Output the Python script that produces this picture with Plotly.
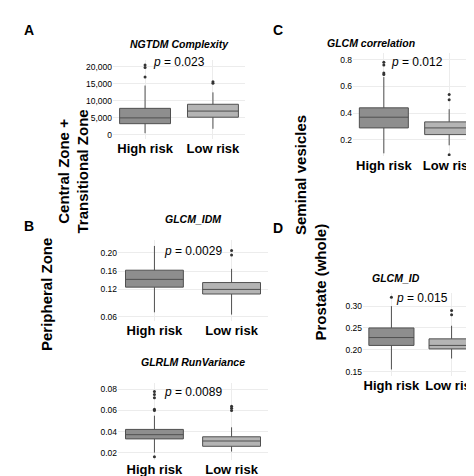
import plotly.graph_objects as go

W, H = 474, 476
cats = ["High risk", "Low risk"]

# per panel: [lower, q1, median, q3, upper] for High, Low; outliers
A_stats = [[500, 3300, 5000, 7800, 14500], [1800, 5200, 7000, 9000, 12500]]
A_out = [[17000, 19800, 20500], [15200, 15600]]
C_stats = [[0.10, 0.29, 0.37, 0.44, 0.67], [0.16, 0.24, 0.29, 0.335, 0.43]]
C_out = [[0.69, 0.70, 0.76, 0.78], [0.09, 0.50, 0.54]]
B1_stats = [[0.07, 0.125, 0.142, 0.162, 0.215], [0.065, 0.11, 0.12, 0.135, 0.165]]
B1_out = [[], [0.195, 0.205]]
B2_stats = [[0.02, 0.033, 0.037, 0.042, 0.055], [0.021, 0.026, 0.031, 0.035, 0.044]]
B2_out = [[0.016, 0.060, 0.061, 0.072, 0.075, 0.078], [0.060, 0.062, 0.064]]
D_stats = [[0.155, 0.21, 0.228, 0.25, 0.30], [0.18, 0.202, 0.21, 0.225, 0.255]]
D_out = [[0.32], [0.28, 0.29]]

pvals = ["0.023", "0.012", "0.0029", "0.0089", "0.015"]
titles = ["NGTDM Complexity", "GLCM correlation", "GLCM_IDM", "GLRLM RunVariance", "GLCM_ID"]

# panel pixel boxes: x0,x1,y0(top),y1(bottom), yrange, tickvals, tickformat, title y px, p y value
panels = [
    (A_stats, A_out, (105, 237, 52, 131), [-1200, 22000], [0, 5000, 10000, 15000, 20000], ",d", 28, 21500),
    (C_stats, C_out, (345, 472, 45, 148), [0.08, 0.85], [0.2, 0.4, 0.6, 0.8], ".1f", 27, 0.78),
    (B1_stats, B1_out, (110, 260, 232, 313), [0.051, 0.228], [0.06, 0.12, 0.16, 0.20], ".2f", 211, 0.205),
    (B2_stats, B2_out, (110, 260, 375, 452), [0.013, 0.086], [0.02, 0.04, 0.06, 0.08], ".2f", 362, 0.077),
    (D_stats, D_out, (355, 472, 285, 368), [0.14, 0.33], [0.15, 0.20, 0.25, 0.30], ".2f", 270, 0.318),
]

fill = ["#8e8e8e", "#b4b4b4"]
fig = go.Figure()
layout = dict(width=W, height=H, margin=dict(l=0, r=0, t=0, b=0),
              paper_bgcolor="white", plot_bgcolor="white", showlegend=False,
              font=dict(family="Liberation Sans, Arial", color="black"))
ann = []
for i, (stats, outs, (x0, x1, y0, y1), yr, tv, tf, ty, py) in enumerate(panels):
    n = "" if i == 0 else str(i + 1)
    xa, ya = "x" + n, "y" + n
    for j in range(2):
        s = stats[j]
        fig.add_trace(go.Box(x=[cats[j]], lowerfence=[s[0]], q1=[s[1]], median=[s[2]],
                             q3=[s[3]], upperfence=[s[4]], fillcolor=fill[j],
                             line=dict(color="#505050", width=1), whiskerwidth=0,
                             width=0.75, boxpoints=False, xaxis=xa, yaxis=ya))
        if outs[j]:
            fig.add_trace(go.Scatter(x=[cats[j]] * len(outs[j]), y=outs[j], mode="markers",
                                     marker=dict(color="#333", size=3), xaxis=xa, yaxis=ya))
    layout["xaxis" + n] = dict(domain=[x0 / W, x1 / W], anchor=ya, showgrid=True,
                               gridcolor="#ececec", tickfont=dict(size=13, family="Liberation Sans"),
                               ticks="", showline=False, zeroline=False, fixedrange=True,
                               categoryorder="array", categoryarray=cats)
    layout["yaxis" + n] = dict(domain=[1 - y1 / H, 1 - y0 / H], anchor=xa, range=yr,
                               tickvals=tv, tickformat=tf, showgrid=True, gridcolor="#ececec",
                               zeroline=False, showline=False, ticks="",
                               tickfont=dict(size=8.5, family="Liberation Sans"))
    ann.append(dict(text="<b><i>%s</i></b>" % titles[i], x=(x0 + x1) / 2 / W, y=1 - ty / H,
                    xref="paper", yref="paper", showarrow=False, font=dict(size=10.5)))
    ann.append(dict(text="<i>p</i> = %s" % pvals[i], x=0.5, y=py, xref=xa, yref=ya,
                    showarrow=False, font=dict(size=12)))

# bold category labels
for k in range(1, 6):
    n = "" if k == 1 else str(k)
    layout["xaxis" + n]["tickvals"] = cats
    layout["xaxis" + n]["ticktext"] = ["<b>%s</b>" % c for c in cats]

for t, x, y in [("A", 14, 12), ("B", 14, 218), ("C", 270, 12), ("D", 270, 220)]:
    ann.append(dict(text="<b>%s</b>" % t, x=x / W, y=1 - y / H, xref="paper", yref="paper",
                    showarrow=False, font=dict(size=14)))
for t, x, y in [("Central Zone +<br>Transitional Zone", 44, 100), ("Peripheral Zone", 28, 345),
                ("Seminal vesicles", 292, 105), ("Prostate (whole)", 312, 335)]:
    ann.append(dict(text="<b>%s</b>" % t, x=x / W, y=1 - y / H, xref="paper", yref="paper",
                    showarrow=False, textangle=-90, font=dict(size=15)))
layout["annotations"] = ann
fig.update_layout(**layout)
fig.write_html("out.html")
